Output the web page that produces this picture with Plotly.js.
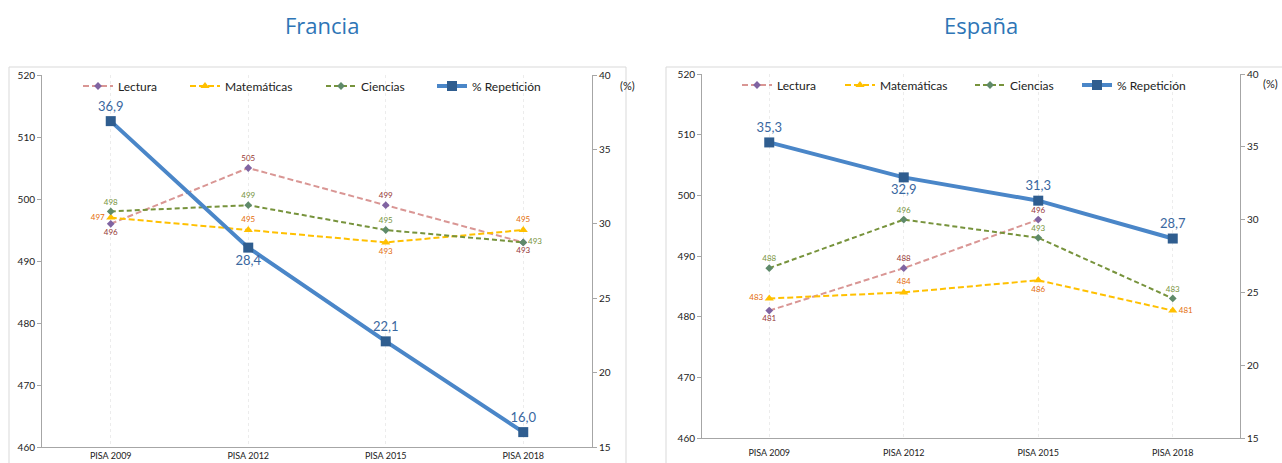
<!DOCTYPE html>
<html><head><meta charset="utf-8">
<script src="https://cdn.plot.ly/plotly-3.0.1.min.js"></script>
<style>html,body{margin:0;padding:0;background:#fff;}#chart{width:1282px;height:463px;}</style>
</head><body><div id="chart"></div>
<script>
const categories = ['PISA 2009', 'PISA 2012', 'PISA 2015', 'PISA 2018'];
const seriesNames = ['Lectura', 'Matemáticas', 'Ciencias', '% Repetición'];
const panelTitles = ['Francia', 'España'];

const franciaLectura = [496, 505, 499, 493];
const franciaMatematicas = [497, 495, 493, 495];
const franciaCiencias = [498, 499, 495, 493];
const franciaRepeticion = [36.9, 28.4, 22.1, 16.0];

const espanaLectura = [481, 488, 496, null];
const espanaMatematicas = [483, 484, 486, 481];
const espanaCiencias = [488, 496, 493, 483];
const espanaRepeticion = [35.3, 32.9, 31.3, 28.7];

const scoreTicks = [460, 470, 480, 490, 500, 510, 520];
const pctTicks = [15, 20, 25, 30, 35, 40];

const FONT = 'Lato, "Open Sans", sans-serif';
const W = 1282, H = 463;
const px = v => v / W;
const py = v => 1 - v / H;

function fmtDec(v){ return v == null ? '' : v.toFixed(1).replace('.', ','); }
function fmtInt(v){ return v == null ? '' : String(v); }

function panelTraces(xa, yaL, yaR, legs, lec, mat, cie, rep, pos){
  return [
    {type:'scatter', mode:'lines+markers+text', name:seriesNames[0], x:categories, y:lec,
     xaxis:xa, yaxis:yaL, legend:legs[0], showlegend:true,
     line:{color:'#d99694', width:2, dash:'6px,3px'},
     marker:{symbol:'diamond', size:6, color:'#8064a2'},
     text:lec.map(fmtInt), textposition:pos.lec, textfont:{size:8, color:'#953735', family:FONT}},
    {type:'scatter', mode:'lines+markers+text', name:seriesNames[1], x:categories, y:mat,
     xaxis:xa, yaxis:yaL, legend:legs[1], showlegend:true,
     line:{color:'#ffc000', width:2, dash:'6px,3px'},
     marker:{symbol:'triangle-up', size:8, color:'#ffc000'},
     text:mat.map(fmtInt), textposition:pos.mat, textfont:{size:8, color:'#e46c0a', family:FONT}},
    {type:'scatter', mode:'lines+markers+text', name:seriesNames[2], x:categories, y:cie,
     xaxis:xa, yaxis:yaL, legend:legs[2], showlegend:true,
     line:{color:'#77933c', width:2, dash:'5px,3px'},
     marker:{symbol:'diamond', size:6, color:'#5f8a6a'},
     text:cie.map(fmtInt), textposition:pos.cie, textfont:{size:8, color:'#77933c', family:FONT}},
    {type:'scatter', mode:'lines+markers+text', name:seriesNames[3], x:categories, y:rep,
     xaxis:xa, yaxis:yaR, legend:legs[3], showlegend:true,
     line:{color:'#4a86c8', width:4},
     marker:{symbol:'square', size:10, color:'#2f5d8f'},
     text:rep.map(fmtDec), textposition:pos.rep, textfont:{size:13, color:'#3a67a0', family:FONT}}
  ];
}

const data = [
  ...panelTraces('x', 'y', 'y2', ['legend','legend2','legend3','legend4'], franciaLectura, franciaMatematicas, franciaCiencias, franciaRepeticion, {
    lec:['bottom center','top center','top center','bottom center'],
    mat:['middle left','top center','bottom center','top center'],
    cie:['top center','top center','top center','middle right'],
    rep:['top center','bottom center','top center','top center']
  }),
  ...panelTraces('x2', 'y3', 'y4', ['legend5','legend6','legend7','legend8'], espanaLectura, espanaMatematicas, espanaCiencias, espanaRepeticion, {
    lec:['bottom center','top center','top center','top center'],
    mat:['middle left','top center','bottom center','middle right'],
    cie:['top center','top center','top center','top center'],
    rep:['top center','bottom center','top center','top center']
  })
];

function xAxis(d0, d1, anchor, standoff){
  return {domain:[px(d0), px(d1)], anchor:anchor, type:'category', range:[-0.5, 3.5],
    showline:true, linecolor:'#a6a6a6', linewidth:1, ticks:'', showgrid:true,
    gridcolor:'#ececec', griddash:'dot', gridwidth:1, zeroline:false, ticklabelstandoff:standoff,
    tickfont:{size:9, color:'#222', family:FONT}, fixedrange:true};
}
function yAxisL(d0, d1, anchor){
  return {domain:[py(d1), py(d0)], anchor:anchor, range:[460, 520], tickvals:scoreTicks,
    showline:true, linecolor:'#a6a6a6', ticks:'outside', ticklen:4, tickcolor:'#a6a6a6',
    showgrid:false, zeroline:false, tickfont:{size:10, color:'#222', family:FONT}};
}
function yAxisR(over, anchor){
  return {overlaying:over, side:'right', anchor:anchor, range:[15, 40], tickvals:pctTicks,
    showline:true, linecolor:'#a6a6a6', ticks:'outside', ticklen:4, tickcolor:'#a6a6a6',
    showgrid:false, zeroline:false, tickfont:{size:10, color:'#222', family:FONT}};
}

function leg(xText, yPix){
  return {orientation:'h', xanchor:'left', yanchor:'middle', bgcolor:'rgba(0,0,0,0)',
    font:{size:12, color:'#222', family:FONT}, itemwidth:30, visible:true,
    x:px(xText - 40), y:py(yPix)};
}

const layout = {
  width:W, height:H, margin:{l:0, r:0, t:0, b:0}, paper_bgcolor:'#fff', plot_bgcolor:'rgba(0,0,0,0)',
  font:{family:FONT}, showlegend:true,
  xaxis: xAxis(42, 592, 'y', 0),
  yaxis: yAxisL(75, 447, 'x'),
  yaxis2: yAxisR('y', 'x'),
  xaxis2: xAxis(702, 1240, 'y3', 6),
  yaxis3: yAxisL(74, 438, 'x2'),
  yaxis4: yAxisR('y3', 'x2'),
  legend: leg(118, 86), legend2: leg(225, 86), legend3: leg(361, 86), legend4: leg(472, 86),
  legend5: leg(777, 85), legend6: leg(880, 85), legend7: leg(1010, 85), legend8: leg(1117, 85),
  shapes:[
    {type:'rect', xref:'paper', yref:'paper', x0:px(9), x1:px(626), y0:py(470), y1:py(67), line:{color:'#d9d9d9', width:1}},
    {type:'rect', xref:'paper', yref:'paper', x0:px(666), x1:px(1290), y0:py(470), y1:py(67), line:{color:'#d9d9d9', width:1}}
  ],
  annotations:[
    {text:panelTitles[0], xref:'paper', yref:'paper', x:px(322), y:py(25), showarrow:false, xanchor:'center', yanchor:'middle', font:{size:22, color:'#2e75b6', family:'"Open Sans", sans-serif'}},
    {text:panelTitles[1], xref:'paper', yref:'paper', x:px(981), y:py(25), showarrow:false, xanchor:'center', yanchor:'middle', font:{size:22, color:'#2e75b6', family:'"Open Sans", sans-serif'}},
    {text:'(%)', xref:'paper', yref:'paper', x:px(627), y:py(86), showarrow:false, xanchor:'center', yanchor:'middle', font:{size:11, color:'#222', family:FONT}},
    {text:'(%)', xref:'paper', yref:'paper', x:px(1270), y:py(84), showarrow:false, xanchor:'center', yanchor:'middle', font:{size:11, color:'#222', family:FONT}}
  ]
};

Plotly.newPlot('chart', data, layout, {displayModeBar:false, staticPlot:true});
</script></body></html>
